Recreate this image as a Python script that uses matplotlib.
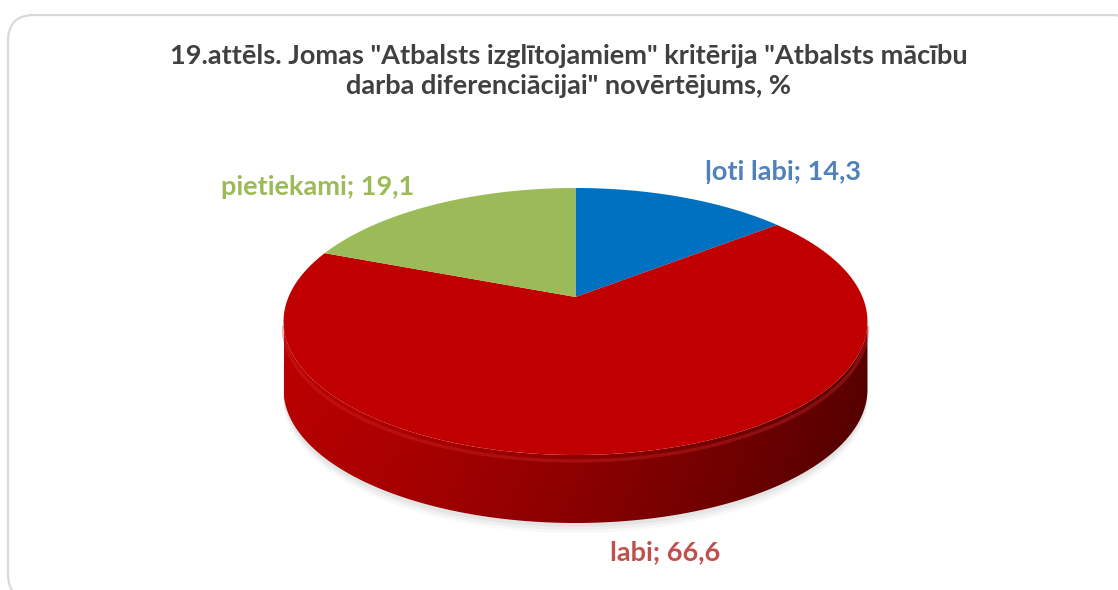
import numpy as np
import matplotlib.pyplot as plt
from matplotlib.patches import Polygon, FancyBboxPatch, PathPatch
from matplotlib.path import Path

labels = ["ļoti labi", "labi", "pietiekami"]
values = [14.3, 66.6, 19.1]
slice_colors = ["#0070c0", "#c00000", "#9bbb59"]
label_colors = ["#4f81bd", "#c0504d", "#9bbb59"]
title = ('19.attēls. Jomas "Atbalsts izglītojamiem" kritērija "Atbalsts mācību\n'
         'darba diferenciācijai" novērtējums, %')

W, H = 1118, 590
# fake 3d pie: centre, radii, perspective factor, thickness (pixels)
CX, CY = 575.5, 297
RX, RY, K = 287, 129, 0.1835
DEPTH = 68


def rim(t):
    w = 1 + K * np.sin(t)
    return CX + RX * np.cos(t) / w, CY - RY * np.sin(t) / w


fig = plt.figure(figsize=(W / 100, H / 100), dpi=100)
ax = fig.add_axes([0, 0, 1, 1])
ax.set_xlim(0, W)
ax.set_ylim(H, 0)
ax.axis("off")

# chart border
ax.add_patch(FancyBboxPatch((8, 15), 1130, 585, boxstyle="round,pad=0,rounding_size=26",
                            fc="white", ec="#d9d9d9", lw=1.6, zorder=0))

# front side of the disc
t0, t1 = np.pi + np.arcsin(K), 2 * np.pi - np.arcsin(K)
ts = np.linspace(t0, t1, 300)
sx, sy = rim(ts)

# soft shadow
for off, a in [(10, 0.05), (7, 0.07), (4, 0.09)]:
    sh = np.vstack([np.column_stack([sx, sy + DEPTH - 30]),
                    np.column_stack([sx[::-1], sy[::-1] + DEPTH + off])])
    ax.add_patch(Polygon(sh, closed=True, fc="#7f7f7f", ec="none", alpha=a, zorder=1))

side = np.vstack([np.column_stack([sx, sy]), np.column_stack([sx[::-1], sy[::-1] + DEPTH])])
side_patch = PathPatch(Path(side, closed=True), fc="none", ec="none", zorder=2)
ax.add_patch(side_patch)

gx = np.linspace(0, 1, 300)
gy = np.linspace(0, 1, 60)[:, None]
red = 0.74 - 0.38 * gx[None, :] ** 1.4 - 0.06 * gy
grad = np.dstack([red, np.zeros_like(red), np.zeros_like(red)])
img = ax.imshow(grad, extent=(sx.min(), sx.max(), sy.max() + DEPTH, sy.min()),
                aspect="auto", zorder=2, interpolation="bilinear")
img.set_clip_path(side_patch)
ax.plot(sx, sy + 6, color="#d42a2a", lw=2.5, alpha=0.35, zorder=3)

# top face wedges, starting at 12 o'clock, clockwise
fr = np.array(values) / np.sum(values)
starts = np.pi / 2 - 2 * np.pi * np.concatenate([[0], np.cumsum(fr)[:-1]])
for st, f, c in zip(starts, fr, slice_colors):
    tt = np.linspace(st, st - 2 * np.pi * f, 200)
    wx, wy = rim(tt)
    pts = np.vstack([[CX, CY], np.column_stack([wx, wy])])
    ax.add_patch(Polygon(pts, closed=True, fc=c, ec="none", zorder=4))

# texts
ax.text(569, 71, title, ha="center", va="center", fontsize=19.5, fontweight="bold",
        color="#404040", family="Lato", linespacing=1.3)
label_pos = [(783, 172), (665, 552), (318, 187)]
for lab, v, c, (lx, ly) in zip(labels, values, label_colors, label_pos):
    ax.text(lx, ly, f"{lab}; {v:.1f}".replace(".", ","), ha="center", va="center",
            fontsize=19.5, fontweight="bold", color=c, family="Lato")

fig.savefig("out.png", dpi=100)
